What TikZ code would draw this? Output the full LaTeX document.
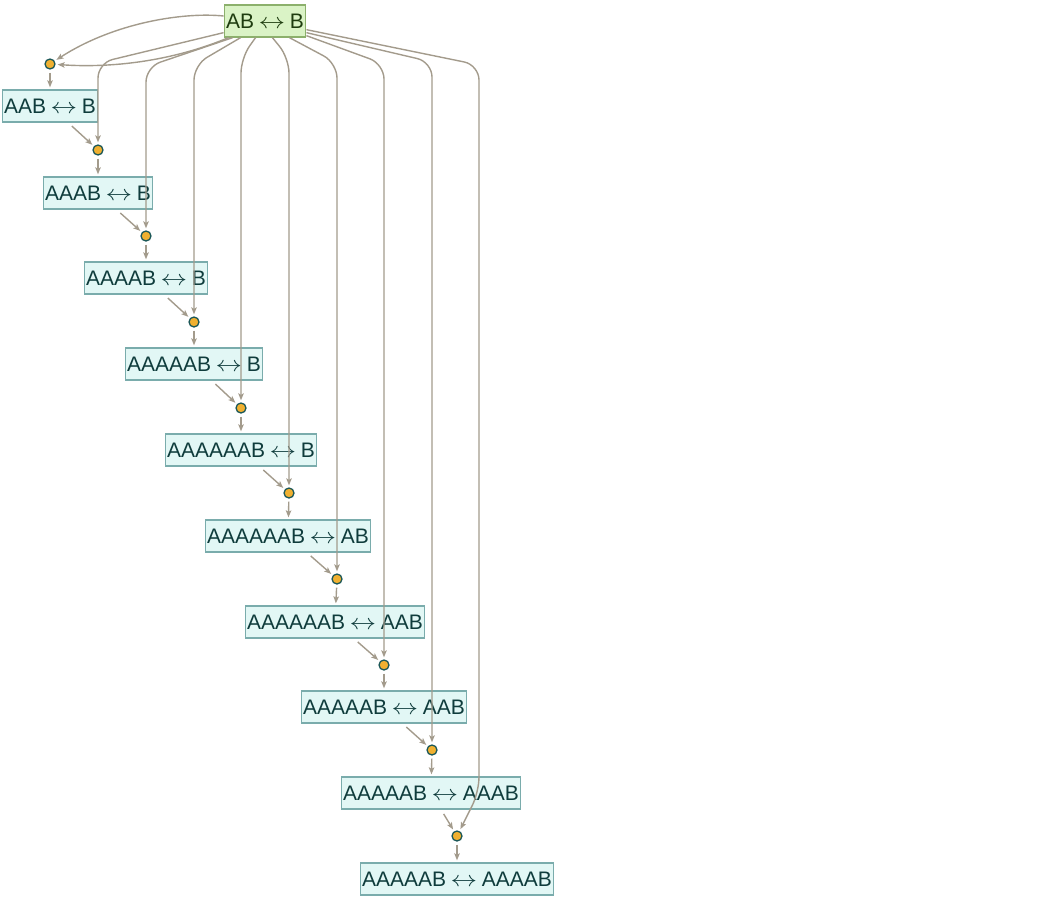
\documentclass[tikz,border=0pt]{standalone}
\usepackage{fontspec}
\setmainfont{Liberation Sans}
\usetikzlibrary{arrows.meta}
\definecolor{edgec}{RGB}{163,155,140}
\definecolor{nfill}{RGB}{226,247,245}
\definecolor{ndraw}{RGB}{122,172,172}
\definecolor{ntext}{RGB}{15,60,60}
\definecolor{tfill}{RGB}{218,243,198}
\definecolor{tdraw}{RGB}{140,176,108}
\definecolor{ttext}{RGB}{30,60,15}
\definecolor{dfill}{RGB}{240,176,48}
\definecolor{ddraw}{RGB}{28,88,88}
\newcommand{\lrar}{\hspace{4.5pt}\scalebox{1.28}[1.05]{$\leftrightarrow$}\hspace{4.5pt}}
\begin{document}
\begin{tikzpicture}[x=1pt,y=-1pt,
 state/.style={draw=ndraw,fill=nfill,text=ntext,line width=1.3pt,minimum height=32pt,inner xsep=2pt,inner ysep=0pt,font=\fontsize{21}{25}\selectfont},
 topstate/.style={state,draw=tdraw,fill=tfill,text=ttext},
 ev/.style={circle,draw=ddraw,fill=dfill,line width=1.3pt,minimum size=10pt,inner sep=0pt},
 edge/.style={draw=edgec,line width=1.4pt,-{Stealth[length=7pt,width=5.5pt,inset=1.5pt]}},
 ein/.style={edge,shorten >=2pt},
 eout/.style={edge,shorten <=5pt,shorten >=2pt},
 edown/.style={edge,shorten <=3pt,shorten >=2pt},
 fan/.style={edge,rounded corners=15pt,shorten >=2pt},
]
\useasboundingbox (0,0) rectangle (1050,900);

\node[topstate] (AB) at (265,21) {AB\lrar B};
\node[state] (n1) at (50,106) {AAB\lrar B};
\node[state] (n2) at (98,193) {AAAB\lrar B};
\node[state] (n3) at (146,278) {AAAAB\lrar B};
\node[state] (n4) at (194,364) {AAAAAB\lrar B};
\node[state] (n5) at (241,450) {AAAAAAB\lrar B};
\node[state] (n6) at (288,536) {AAAAAAB\lrar AB};
\node[state] (n7) at (335,622) {AAAAAAB\lrar AAB};
\node[state] (n8) at (384,707) {AAAAAB\lrar AAB};
\node[state] (n9) at (431,793) {AAAAAB\lrar AAAB};
\node[state] (n10) at (457,879) {AAAAAB\lrar AAAAB};

\node[ev] (d1) at (50,64) {};
\node[ev] (d2) at (98,150) {};
\node[ev] (d3) at (146,236) {};
\node[ev] (d4) at (194,322) {};
\node[ev] (d5) at (241,408) {};
\node[ev] (d6) at (289,493) {};
\node[ev] (d7) at (337,579) {};
\node[ev] (d8) at (384,665) {};
\node[ev] (d9) at (432,750) {};
\node[ev] (d10) at (457,836) {};

% fan from the top node
\draw[ein] ([yshift=5pt]AB.west) .. controls (185,12) and (115,22) .. (d1);
\draw[ein] ([xshift=5pt]AB.south west) .. controls (170,62) and (110,68) .. (d1);
\draw[fan] ([yshift=5pt]AB.south west) -- (98,63) -- (d2);
\draw[fan] ([xshift=9pt]AB.south west) -- (146,67) -- (d3);
\draw[fan] ([xshift=17pt]AB.south west) -- (194,65) -- (d4);
\draw[fan] ([xshift=32pt]AB.south west) -- (241,58) -- (d5);
\draw[fan] ([xshift=-34pt]AB.south east) -- (289,58) -- (d6);
\draw[fan] ([xshift=-17pt]AB.south east) -- (337,63) -- (d7);
\draw[fan] ([yshift=2pt]AB.south east) -- (384,64) -- (d8);
\draw[fan] ([yshift=5pt]AB.south east) -- (432,62) -- (d9);
\draw[fan] ([yshift=8pt]AB.south east) -- (479,65) -- (479,792) -- (d10);

% dots to states
\draw[edown] (d1) -- (n1);
\draw[edown] (d2) -- (n2);
\draw[edown] (d3) -- (n3);
\draw[edown] (d4) -- (n4);
\draw[edown] (d5) -- (n5);
\draw[edown] (d6) -- (n6);
\draw[edown] (d7) -- (n7);
\draw[edown] (d8) -- (n8);
\draw[edown] (d9) -- (n9);
\draw[edown] (d10) -- (n10);

% states to dots
\draw[eout] (n1) -- (d2);
\draw[eout] (n2) -- (d3);
\draw[eout] (n3) -- (d4);
\draw[eout] (n4) -- (d5);
\draw[eout] (n5) -- (d6);
\draw[eout] (n6) -- (d7);
\draw[eout] (n7) -- (d8);
\draw[eout] (n8) -- (d9);
\draw[eout] (n9) -- (d10);
\end{tikzpicture}
\end{document}
